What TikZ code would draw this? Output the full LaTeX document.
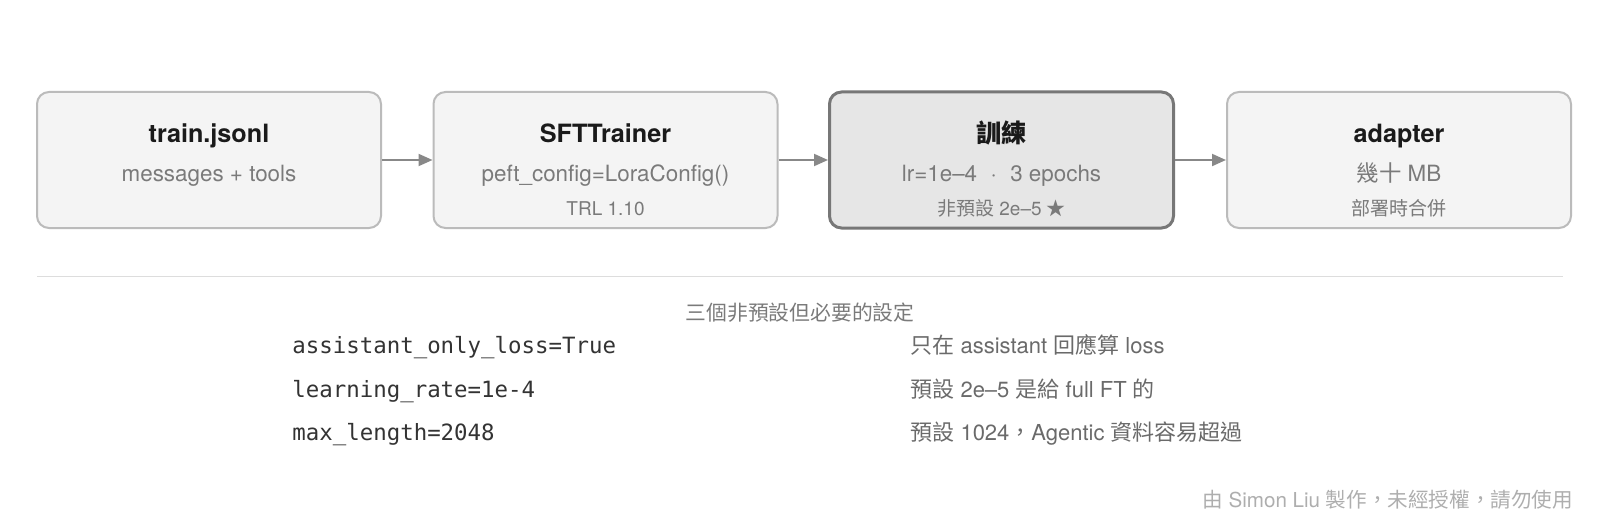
\documentclass[tikz,border=0pt]{standalone}
\usepackage{fontspec}
\setmainfont{TeX Gyre Heros}
\setmonofont{DejaVu Sans Mono}
\newfontfamily\cjk{Noto Sans CJK TC}
\usepackage{tikz}
\usetikzlibrary{arrows.meta, positioning}
\definecolor{boxfill}{HTML}{F4F4F4}
\definecolor{boxline}{HTML}{BBBBBB}
\definecolor{keyfill}{HTML}{E6E6E6}
\definecolor{keyline}{HTML}{777777}
\definecolor{titlegray}{HTML}{1A1A1A}
\definecolor{subgray}{HTML}{7A7A7A}
\definecolor{arrowgray}{HTML}{888888}
\definecolor{rulegray}{HTML}{DDDDDD}
\definecolor{codegray}{HTML}{333333}
\definecolor{notegray}{HTML}{6A6A6A}
\definecolor{footgray}{HTML}{AEAEAE}

\begin{document}
\begin{tikzpicture}[x=0.5pt, y=-0.5pt,
  stagebox/.style={draw=boxline, line width=1pt, rounded corners=6pt, fill=boxfill, minimum width=172pt, minimum height=68pt, inner sep=0pt},
  keybox/.style={stagebox, draw=keyline, line width=1.5pt, fill=keyfill},
  titletext/.style={anchor=base, inner sep=0pt, text=titlegray, font=\fontsize{12.6}{15}\selectfont\bfseries},
  subtext/.style={anchor=base, inner sep=0pt, text=subgray, font=\fontsize{11.2}{13}\selectfont},
  smalltext/.style={anchor=base, inner sep=0pt, text=subgray, font=\fontsize{9.5}{11}\selectfont},
  flow/.style={draw=arrowgray, line width=1pt, -{Triangle[length=7pt, width=6pt]}},
  codetext/.style={anchor=base west, inner sep=0pt, text=codegray, font=\ttfamily\fontsize{11.2}{13}\selectfont},
  notetext/.style={anchor=base west, inner sep=0pt, text=notegray, font=\fontsize{11}{13}\selectfont}]
  \useasboundingbox (0,0) rectangle (1600,524);

  % Pipeline boxes
  \node[stagebox] (data) at (209,160) {};
  \node[stagebox] (trainer) at (605.5,160) {};
  \node[keybox] (train) at (1001.5,160) {};
  \node[stagebox] (adapter) at (1399,160) {};

  % train.jsonl
  \node[titletext] (dataname) at (209,142.5) {train.jsonl};
  \node[subtext] (datasub) at (209,181.5) {messages + tools};

  % SFTTrainer
  \node[titletext] (trainername) at (605.5,142.5) {SFTTrainer};
  \node[subtext] (trainersub) at (605.5,181.5) {peft\_config=LoraConfig()};
  \node[smalltext] (trainernote) at (605.5,215) {TRL 1.10};

  % training
  \node[titletext] (trainname) at (1001.5,142.5) {{\cjk 訓練}};
  \node[subtext] (trainsub) at (1001.5,181.5) {lr=1e–4\hspace{0.6em}·\hspace{0.6em}3 epochs};
  \node[smalltext] (trainnote) at (1001.5,215) {{\cjk 非預設} 2e–5 {\cjk ★}};

  % adapter
  \node[titletext] (adaptername) at (1399,142.5) {adapter};
  \node[subtext] (adaptersub) at (1399,181.5) {{\cjk 幾十} MB};
  \node[smalltext] (adapternote) at (1399,215) {{\cjk 部署時合併}};

  \draw[flow] (data) -- (trainer);
  \draw[flow] (trainer) -- (train);
  \draw[flow] (train) -- (adapter);

  % Separator
  \coordinate (sepleft) at (37,276.5);
  \coordinate (sepright) at (1563,276.5);
  \draw[rulegray, line width=0.8pt] (sepleft) -- (sepright);

  % Settings
  \node[anchor=base, inner sep=0pt, text=subgray, font=\cjk\fontsize{10.4}{12}\selectfont] (sethead) at (800,320.5) {三個非預設但必要的設定};

  \node[codetext] (lossopt) at (292,353) {assistant\_only\_loss=True};
  \node[codetext] (lropt) at (292,397) {learning\_rate=1e-4};
  \node[codetext] (lenopt) at (292,440) {max\_length=2048};

  \node[notetext] (lossnote) at (910,353) {{\cjk 只在} assistant {\cjk 回應算} loss};
  \node[notetext] (lrnote) at (910,397) {{\cjk 預設} 2e–5 {\cjk 是給} full FT {\cjk 的}};
  \node[notetext] (lennote) at (910,440) {{\cjk 預設} 1024{\cjk ，}Agentic {\cjk 資料容易超過}};

  % Footer
  \node[anchor=base east, inner sep=0pt, text=footgray, font=\fontsize{10.3}{12}\selectfont] (footer) at (1573.5,507) {{\cjk 由} Simon Liu {\cjk 製作，未經授權，請勿使用}};
\end{tikzpicture}
\end{document}
